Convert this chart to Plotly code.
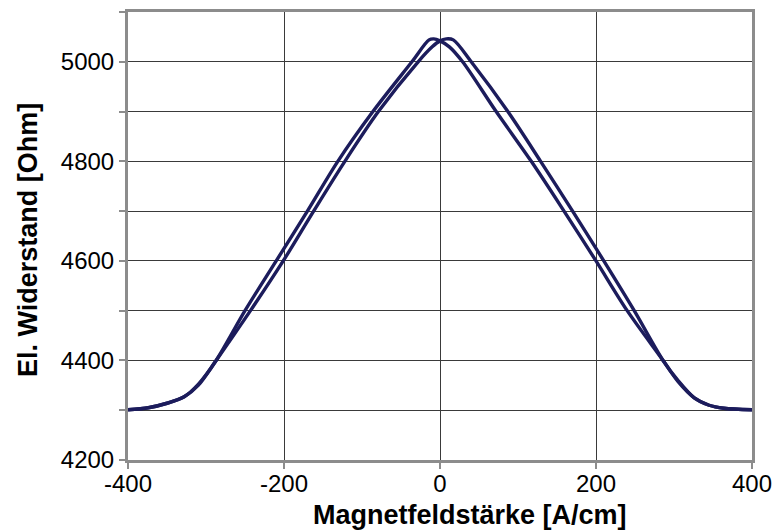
import plotly.graph_objects as go

# Branch sweeping up (field increasing from -400 to +400)
up_h = [-400, -374, -350, -328, -310, -287, -243, -201, -162, -122, -79, -28, -10, 0, 8, 17,
        40, 87, 129, 170, 210, 249, 286, 305, 326, 345, 364, 400]
up_r = [4301, 4305, 4314, 4327, 4350, 4400, 4500, 4600, 4700, 4800, 4900, 5000, 5030, 5042, 5046, 5044,
        5000, 4900, 4800, 4700, 4600, 4500, 4400, 4360, 4325, 4310, 4304, 4301]

# Branch sweeping down (field decreasing from +400 to -400)
down_h = [400, 364, 345, 326, 305, 286, 240, 200, 159, 117, 72, 29, 12, 0, -8, -14,
          -36, -86, -131, -170, -210, -250, -287, -310, -328, -350, -374, -400]
down_r = [4301, 4304, 4310, 4325, 4358, 4400, 4500, 4600, 4700, 4800, 4900, 5000, 5030, 5042, 5046, 5044,
          5000, 4900, 4800, 4700, 4600, 4500, 4400, 4352, 4327, 4314, 4305, 4301]

y_tickvals = [4200, 4300, 4400, 4500, 4600, 4700, 4800, 4900, 5000, 5100]
y_ticktext = ["4200", "", "4400", "", "4600", "", "4800", "", "5000", ""]
x_tickvals = [-400, -200, 0, 200, 400]

LINE = "#1c1c5c"
FONT = "Liberation Sans, Arial, sans-serif"

fig = go.Figure()
fig.add_trace(go.Scatter(x=up_h, y=up_r, mode="lines",
                         line=dict(color=LINE, width=3.4, shape="spline", smoothing=0.9)))
fig.add_trace(go.Scatter(x=down_h, y=down_r, mode="lines",
                         line=dict(color=LINE, width=3.4, shape="spline", smoothing=0.9)))

fig.update_layout(
    width=776, height=530,
    margin=dict(l=128, r=24, t=12, b=70),
    paper_bgcolor="white", plot_bgcolor="white",
    showlegend=False,
    font=dict(family=FONT, color="black", size=24),
)
fig.update_xaxes(
    range=[-400, 400], tickvals=x_tickvals, ticktext=[str(v) for v in x_tickvals],
    showgrid=True, gridcolor="#3a3a3a", gridwidth=1,
    showline=True, linecolor="#8c8c8c", linewidth=3, mirror=True,
    ticks="", automargin=False,
    minor=dict(tickvals=x_tickvals, ticks="outside", ticklen=6, tickcolor="#8c8c8c",
               tickwidth=2, showgrid=False),
    tickfont=dict(size=24), zeroline=False,
)
fig.update_yaxes(
    range=[4200, 5100], tickvals=y_tickvals, ticktext=y_ticktext,
    showgrid=True, gridcolor="#3a3a3a", gridwidth=1,
    showline=True, linecolor="#8c8c8c", linewidth=3, mirror=True,
    ticks="outside", ticklen=6, tickcolor="#8c8c8c", tickwidth=2, automargin=False,
    tickfont=dict(size=24), zeroline=False,
)
fig.add_annotation(text="<b>Magnetfeldstärke [A/cm]</b>", xref="paper", yref="paper",
                   x=(470 - 128) / 624, y=-(515 - 460) / 448, showarrow=False,
                   font=dict(size=27, family=FONT), xanchor="center", yanchor="middle")
fig.add_annotation(text="<b>El. Widerstand [Ohm]</b>", xref="paper", yref="paper",
                   x=-(128 - 28) / 624, y=(460 - 240) / 448, showarrow=False, textangle=-90,
                   font=dict(size=27, family=FONT), xanchor="center", yanchor="middle")

fig.write_html("out.html")
